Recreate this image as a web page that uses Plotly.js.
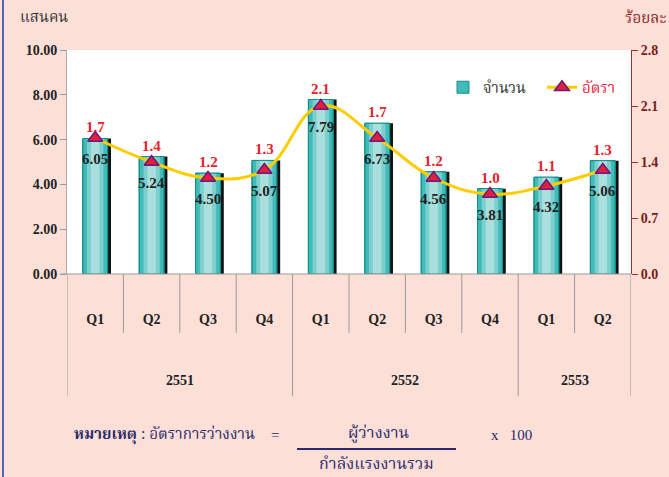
<!DOCTYPE html>
<html><head><meta charset="utf-8">
<script src="https://cdn.plot.ly/plotly-3.0.1.min.js"></script>
<style>html,body{margin:0;padding:0;background:#fce0d8;}</style>
</head><body>
<div id="chart" style="width:669px;height:477px;"></div>
<script>
const years = ["2551","2551","2551","2551","2552","2552","2552","2552","2553","2553"];
const quarters = ["Q1","Q2","Q3","Q4","Q1","Q2","Q3","Q4","Q1","Q2"];
const counts = [6.05,5.24,4.50,5.07,7.79,6.73,4.56,3.81,4.32,5.06];
const rates = [1.7,1.4,1.2,1.3,2.1,1.7,1.2,1.0,1.1,1.3];
const leftTicks = [0,2,4,6,8,10];
const rightTicks = [0,0.7,1.4,2.1,2.8];

const cats = years.map((y,i)=>y+" "+quarters[i]);

const L=67,R=631,T=50,B=274,W=669,H=477;
const PX = x => (x-L)/(R-L);
const PY = y => (B-y)/(B-T);
const SERIF = "Liberation Serif, Times New Roman, serif";
const THAI = "Noto Serif Thai, Noto Sans Thai Looped, Noto Sans Thai, Loma, Garuda, Norasi, Noto Sans, DejaVu Sans, sans-serif";

const barW = 0.44;
const traces = [
  {type:'bar', x:cats, y:counts, width:barW, offset:-barW/2+0.06,
   marker:{color:'#111'}, showlegend:false, hoverinfo:'skip'},
  {type:'bar', x:cats, y:counts, width:barW, offset:-barW/2, name:'<span style="color:#333">จำนวน</span>',
   marker:{color:'#3fbcba', line:{color:'#168f8b', width:1}}},
  {type:'bar', x:cats, y:counts, width:barW*0.66, offset:-barW*0.33,
   marker:{color:'#7ccfcd'}, showlegend:false, hoverinfo:'skip'},
  {type:'bar', x:cats, y:counts, width:barW*0.34, offset:-barW*0.17,
   marker:{color:'#abdfde'}, showlegend:false, hoverinfo:'skip'},
  {type:'bar', x:cats, y:counts, width:barW, offset:-barW/2,
   marker:{color:'rgba(0,0,0,0)', line:{color:'#168f8b', width:1}}, showlegend:false, hoverinfo:'skip'},
  {type:'scatter', x:cats, y:rates, yaxis:'y2', mode:'lines+markers', name:'<span style="color:#e8203a">อัตรา</span>',
   line:{color:'#ffcc00', width:3, shape:'spline', smoothing:1.2},
   marker:{symbol:'triangle-up', size:13, color:'#e0203c', line:{color:'#6a1a7a', width:1.5}}}
];

const annotations = [];
cats.forEach((c,i)=>{
  annotations.push({x:c, y:counts[i], xref:'x', yref:'y', yshift:11, showarrow:false,
    xanchor:'center', yanchor:'middle',
    text:'<b>'+rates[i].toFixed(1)+'</b>', font:{family:SERIF, size:15, color:'#e8202a'}});
  annotations.push({x:c, y:rates[i], xref:'x', yref:'y2', yshift:-21, showarrow:false,
    xanchor:'center', yanchor:'middle',
    text:'<b>'+counts[i].toFixed(2)+'</b>', font:{family:SERIF, size:15, color:'#222'}});
});

// year groups
const groups = [];
years.forEach((y,i)=>{
  if(!groups.length || groups[groups.length-1].year!==y) groups.push({year:y,start:i,end:i});
  else groups[groups.length-1].end=i;
});
const shapes = [];
groups.forEach(g=>{
  annotations.push({x:(g.start+g.end)/2, y:PY(380), xref:'x', yref:'paper', showarrow:false,
    xanchor:'center', yanchor:'middle',
    text:'<b>'+g.year+'</b>', font:{family:SERIF, size:14, color:'#222'}});
});
const yearEdges = new Set([-0.5]);
groups.forEach(g=>yearEdges.add(g.end+0.5));
for(let b=-0.5;b<=cats.length-0.5;b+=1){
  const isYear = yearEdges.has(b);
  shapes.push({type:'line', xref:'x', yref:'paper', x0:b, x1:b, y0:0, y1:isYear?PY(396):PY(333),
    line:{color:'#9a9a9a', width:1}});
}
// left blue border
shapes.push({type:'line', xref:'paper', yref:'paper', x0:PX(3), x1:PX(3), y0:PY(0), y1:PY(H),
  line:{color:'#5864b4', width:2}});
// fraction line
shapes.push({type:'line', xref:'paper', yref:'paper', x0:PX(297), x1:PX(456), y0:PY(449), y1:PY(449),
  line:{color:'#2a2a70', width:2}});
// bottom axis line
shapes.push({type:'line', xref:'paper', yref:'paper', x0:PX(61), x1:1, y0:0, y1:0, line:{color:'#9a9a9a', width:1}});

const NAVY = '#2a2a6a';
const pa = (x,y,text,font,xanchor)=>({x:PX(x), y:PY(y), xref:'paper', yref:'paper', showarrow:false,
  xanchor:xanchor||'center', yanchor:'middle', text:text, font:font});
annotations.push(
  pa(18,18,'แสนคน',{family:THAI, size:15, color:'#333'},'left'),
  pa(668,19,'ร้อยละ',{family:THAI, size:15, color:'#8b1a1a'},'right'),
  pa(72,435,'<b>หมายเหตุ</b> : อัตราการว่างงาน',{family:THAI, size:15.2, color:NAVY},'left'),
  pa(275,435,'=',{family:SERIF, size:15, color:NAVY}),
  pa(378,434,'ผู้ว่างงาน',{family:THAI, size:16, color:NAVY}),
  pa(376,465,'กำลังแรงงานรวม',{family:THAI, size:16, color:NAVY}),
  pa(489,435,'x &nbsp; 100',{family:SERIF, size:15, color:NAVY},'left')
);

const layout = {
  width:W, height:H, margin:{l:L, r:W-R, t:T, b:H-B},
  paper_bgcolor:'#fce0d8', plot_bgcolor:'#ffffff',
  barmode:'overlay', showlegend:true,
  legend:{orientation:'h', x:PX(443), y:PY(71), xanchor:'left', yanchor:'top',
    bgcolor:'rgba(0,0,0,0)', font:{family:THAI, size:15}, itemwidth:30, traceorder:'normal',
    entrywidth:54, entrywidthmode:'pixels'},
  xaxis:{type:'category', tickvals:cats, ticktext:quarters.map(q=>'<b>'+q+'</b>'), range:[-0.5, cats.length-0.5],
    showgrid:false, zeroline:false, showline:false, ticks:'', ticklabelstandoff:35,
    tickfont:{family:SERIF, size:14, color:'#222'}},
  yaxis:{range:[0,10], tickvals:leftTicks, ticktext:leftTicks.map(v=>'<b>'+v.toFixed(2)+'</b>'),
    showgrid:false, zeroline:false, showline:true, linecolor:'#aaaaaa', ticks:'outside', ticklen:6,
    tickcolor:'#999', tickfont:{family:SERIF, size:14, color:'#222'}},
  yaxis2:{overlaying:'y', side:'right', range:[0,2.8], tickvals:rightTicks,
    ticktext:rightTicks.map(v=>'<b>'+v.toFixed(1)+'</b>'), showgrid:false, zeroline:false,
    showline:true, linecolor:'#a0302a', ticks:'outside', ticklen:6, tickcolor:'#a0302a',
    tickfont:{family:SERIF, size:14, color:'#7a1a1a'}},
  annotations:annotations, shapes:shapes
};

Plotly.newPlot('chart', traces, layout, {displayModeBar:false, staticPlot:true});
</script>
</body></html>
